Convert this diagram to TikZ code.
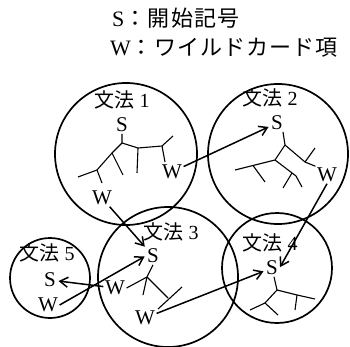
\documentclass[tikz,border=0pt]{standalone}
\usepackage{fontspec}
\setmainfont{Liberation Serif}
\newfontfamily\cjk{Noto Sans CJK JP}
\usetikzlibrary{arrows.meta}
\begin{document}
\begin{tikzpicture}[x=1pt,y=-1pt,
  circ/.style={draw, circle, inner sep=0pt, line width=1.7pt},
  lab/.style={inner sep=1pt, font=\fontsize{20}{20}\selectfont},
  sym/.style={inner sep=1.5pt, font=\fontsize{21}{21}\selectfont},
  legend/.style={anchor=west, inner sep=0pt, font=\fontsize{22}{22}\selectfont},
  tree/.style={line width=1.1pt},
  arr/.style={line width=1.5pt, -{Straight Barb[length=8pt,width=10pt,line width=1.5pt]}, shorten >=1pt},
]
\useasboundingbox (0,0) rectangle (350,347);

% legend
\node[legend] (k1) at (112,18) {S{\cjk\addfontfeature{LetterSpace=6}：開始記号}};
\node[legend] (k2) at (110,48) {W{\cjk\addfontfeature{LetterSpace=5}：ワイルドカード項}};

% circles
\node[circ, minimum size=142pt] (g1) at (126,154) {};
\node[circ, minimum size=140pt] (g2) at (278,154) {};
\node[circ, minimum size=140pt] (g3) at (168,277) {};
\node[circ, minimum size=110pt] (g4) at (277,268) {};
\node[circ, minimum size=80pt]  (g5) at (50,278) {};

% labels
\node[lab] (l1) at (122,100) {{\cjk 文法} 1};
\node[lab] (l2) at (270,98)  {{\cjk 文法} 2};
\node[lab] (l3) at (171,232) {{\cjk 文法} 3};
\node[lab] (l4) at (270,243) {{\cjk 文法} 4};
\node[lab] (l5) at (47,253)  {{\cjk 文法} 5};

% symbols
\node[sym] (S1) at (122,125) {S};
\node[sym] (W1a) at (172,172) {W};
\node[sym] (W1b) at (102,198) {W};
\node[sym] (S2) at (277,123) {S};
\node[sym] (W2) at (327,175) {W};
\node[sym] (S3) at (153,256) {S};
\node[sym] (W3a) at (115,288) {W};
\node[sym] (W3b) at (145,318) {W};
\node[sym] (S4) at (272,268) {S};
\node[sym] (S5) at (50,280) {S};
\node[sym] (W5) at (48,305) {W};

% tree 1
\coordinate (j1) at (122,143);
\coordinate (a1) at (112,153);
\coordinate (b1) at (97,170);
\coordinate (c1) at (138,148);
\coordinate (d1) at (162,146);
\draw[tree] (S1.south) -- (j1) -- (a1) -- (b1) -- (78,177);
\draw[tree] (a1) -- (123,175);
\draw[tree] (b1) -- (102,183);
\draw[tree] (j1) -- (c1) -- (d1) -- (173,136);
\draw[tree] (c1) -- (137,173);
\draw[tree] (d1) -- (165,162);

% tree 2
\coordinate (j2) at (285,145);
\coordinate (e2) at (275,160);
\coordinate (f2) at (305,162);
\coordinate (g2p) at (296,176);
\draw[tree] (283,132) -- (j2);
\draw[tree] (j2) -- (e2) -- (235,170);
\draw[tree] (253,165.5) -- (265,182);
\draw[tree] (j2) -- (f2) -- (W2.north west);
\draw[tree] (f2) -- (315,148);
\draw[tree] (e2) -- (g2p) -- (302,187);
\draw[tree] (292,173) -- (283,188);

% tree 3
\coordinate (j3) at (147,277);
\coordinate (h3) at (168,298);
\draw[tree] (S3.south) -- (j3);
\draw[tree] (j3) -- (W3a.east);
\draw[tree] (j3) -- (143,295);
\draw[tree] (j3) -- (h3);
\draw[tree] (158,309) -- (182,287);

% tree 4
\coordinate (k4) at (277,290);
\coordinate (m4) at (297,295);
\coordinate (n4) at (265,303);
\draw[tree] (S4.south) ++(2,0) -- (k4);
\draw[tree] (k4) -- (m4) -- (315,299);
\draw[tree] (m4) -- (295,310);
\draw[tree] (k4) -- (n4) -- (250,310);
\draw[tree] (n4) -- (278,315);

% arrows
\draw[arr] (W1a) -- (S2);
\draw[arr] (W1b) -- (S3);
\draw[arr] (W2.south) -- (S4.east);
\draw[arr] (W3b) -- (S4);
\draw[arr] (W5.east) -- (S3.west);
\draw[arr] (W3a) -- (S5);
\end{tikzpicture}
\end{document}
